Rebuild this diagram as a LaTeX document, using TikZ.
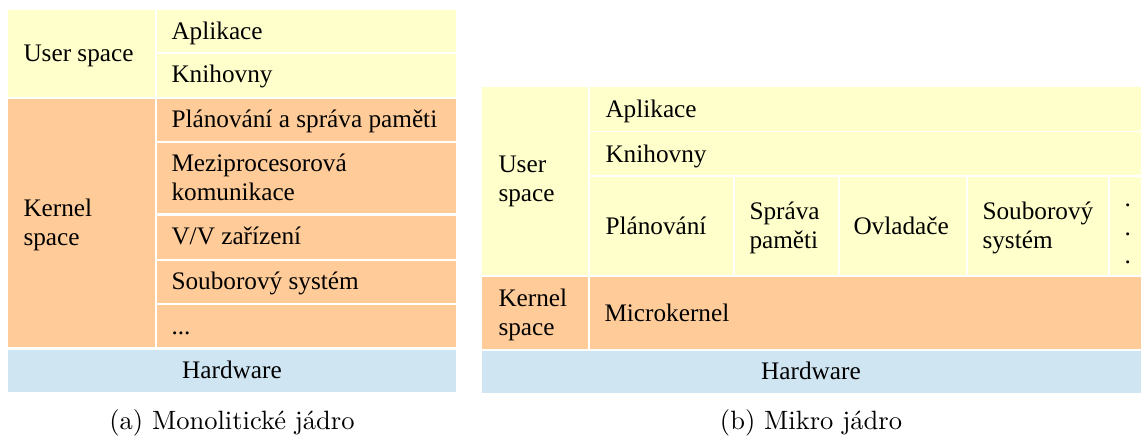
\documentclass[tikz,border=0pt]{standalone}
\usepackage{fontspec}
\newfontfamily\boxfont{Liberation Serif}
\definecolor{userbg}{RGB}{255,255,204}
\definecolor{kernbg}{RGB}{255,204,153}
\definecolor{hwbg}{RGB}{207,229,242}
% stacked lines whose baseline is that of the first line
\newcommand\stackedtext[1]{\vtop{\baselineskip=11.3pt\halign{##\hfil\cr#1\crcr}}}
\tikzset{
  lbl/.style={inner sep=0pt, anchor=base west,
    font=\boxfont\fontsize{10.1pt}{11.3pt}\selectfont},
  ctr/.style={lbl, anchor=base},
  captext/.style={inner sep=0pt, anchor=base, font=\fontsize{10.6pt}{12pt}\selectfont},
}
\begin{document}
\begin{tikzpicture}[x=0.4pt,y=-0.4pt]
\useasboundingbox (0,0) rectangle (1141,437);

% ---------- (a) monolithic kernel ----------
\fill[userbg] (8,10)    rectangle (155,97);
\fill[userbg] (157,10)  rectangle (456,52);
\fill[userbg] (157,54)  rectangle (456,97);
\fill[kernbg] (8,99)    rectangle (155,347);
\fill[kernbg] (157,99)  rectangle (456,141);
\fill[kernbg] (157,143) rectangle (456,213);
\fill[kernbg] (157,216) rectangle (456,259);
\fill[kernbg] (157,261) rectangle (456,303);
\fill[kernbg] (157,305) rectangle (456,347);
\fill[hwbg]   (8,350)   rectangle (456,392);

\node[lbl] (aUser) at (23,62)  {User space};
\node[lbl] (aApp)  at (171,40) {Aplikace};
\node[lbl] (aLib)  at (171,83) {Knihovny};
\node[lbl] (aKern) at (23,217) {\stackedtext{Kernel\cr space}};
\node[lbl] (aSched) at (171,128) {Plánování a správa paměti};
\node[lbl] (aIpc)  at (171,172) {\stackedtext{Meziprocesorová\cr komunikace}};
\node[lbl] (aIo)   at (171,245) {V/V zařízení};
\node[lbl] (aFs)   at (171,290) {Souborový systém};
\node[lbl] (aMore) at (171,335) {...};
\node[ctr] (aHw)   at (232,379) {Hardware};
\node[captext] (aCap)  at (232,430) {(a) Monolitické jádro};

% ---------- (b) microkernel ----------
\fill[userbg] (482,87)   rectangle (588,275);
\fill[userbg] (590,87)   rectangle (1141,131);
\fill[userbg] (590,132)  rectangle (1141,175);
\fill[userbg] (590,177)  rectangle (733,275);
\fill[userbg] (735,177)  rectangle (838,275);
\fill[userbg] (840,177)  rectangle (966,275);
\fill[userbg] (968,177)  rectangle (1108,275);
\fill[userbg] (1110,177) rectangle (1141,275);
\fill[kernbg] (482,277)  rectangle (588,349);
\fill[kernbg] (590,277)  rectangle (1141,349);
\fill[hwbg]   (482,351)  rectangle (1141,393);

\node[lbl] (bUser)  at (498,173) {\stackedtext{User\cr space}};
\node[lbl] (bApp)   at (605,118) {Aplikace};
\node[lbl] (bLib)   at (605,163) {Knihovny};
\node[lbl] (bSched) at (605,235) {Plánování};
\node[lbl] (bMem)   at (749,220) {\stackedtext{Správa\cr paměti}};
\node[lbl] (bDrv)   at (853,235) {Ovladače};
\node[lbl] (bFs)    at (982,220) {\stackedtext{Souborový\cr systém}};
\node[lbl] (bMore)  at (1124,207) {\stackedtext{.\cr .\cr .}};
\node[lbl] (bKern)  at (498,307) {\stackedtext{Kernel\cr space}};
\node[lbl] (bMicro) at (604,322) {Microkernel};
\node[ctr] (bHw)    at (811,380) {Hardware};
\node[captext] (bCap)   at (811,430) {(b) Mikro jádro};
\end{tikzpicture}
\end{document}
